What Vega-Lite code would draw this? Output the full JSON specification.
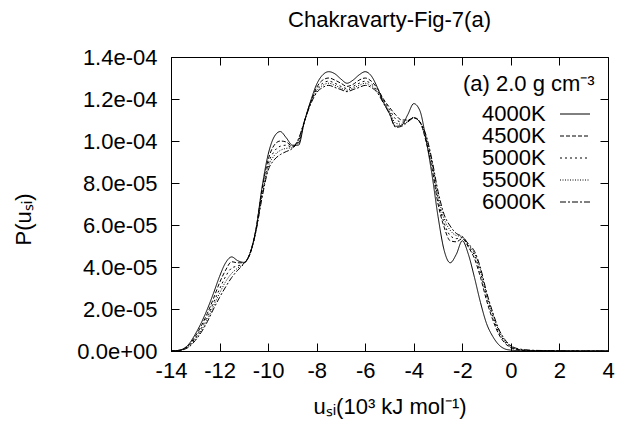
{
  "$schema": "https://vega.github.io/schema/vega-lite/v6.json",
  "width": 437,
  "height": 294,
  "autosize": {"type": "none"},
  "padding": {"left": 171, "top": 57, "right": 13, "bottom": 72},
  "background": "white",
  "title": {"text": "Chakravarty-Fig-7(a)", "fontSize": 22, "font": "Liberation Sans", "fontWeight": "normal", "color": "black", "anchor": "middle", "frame": "group", "baseline": "alphabetic", "offset": -3},
  "data": {"values": [
    {"u": -14, "4000K": 0, "4500K": 0, "5000K": 0, "5500K": 0, "6000K": 0},
    {"u": -13.75, "4000K": 0.02e-5, "4500K": 0.02e-5, "5000K": 0.015e-5, "5500K": 0.01e-5, "6000K": 0.01e-5},
    {"u": -13.5, "4000K": 0.1e-5, "4500K": 0.09e-5, "5000K": 0.08e-5, "5500K": 0.07e-5, "6000K": 0.06e-5},
    {"u": -13.25, "4000K": 0.35e-5, "4500K": 0.3e-5, "5000K": 0.27e-5, "5500K": 0.23e-5, "6000K": 0.2e-5},
    {"u": -13, "4000K": 0.8e-5, "4500K": 0.7e-5, "5000K": 0.62e-5, "5500K": 0.56e-5, "6000K": 0.5e-5},
    {"u": -12.75, "4000K": 1.35e-5, "4500K": 1.2e-5, "5000K": 1.08e-5, "5500K": 0.98e-5, "6000K": 0.9e-5},
    {"u": -12.5, "4000K": 2.0e-5, "4500K": 1.8e-5, "5000K": 1.65e-5, "5500K": 1.5e-5, "6000K": 1.4e-5},
    {"u": -12.25, "4000K": 2.75e-5, "4500K": 2.5e-5, "5000K": 2.3e-5, "5500K": 2.15e-5, "6000K": 2.0e-5},
    {"u": -12, "4000K": 3.55e-5, "4500K": 3.25e-5, "5000K": 2.95e-5, "5500K": 2.75e-5, "6000K": 2.55e-5},
    {"u": -11.75, "4000K": 4.2e-5, "4500K": 3.85e-5, "5000K": 3.55e-5, "5500K": 3.3e-5, "6000K": 3.05e-5},
    {"u": -11.5, "4000K": 4.48e-5, "4500K": 4.25e-5, "5000K": 3.95e-5, "5500K": 3.7e-5, "6000K": 3.5e-5},
    {"u": -11.25, "4000K": 4.3e-5, "4500K": 4.2e-5, "5000K": 4.05e-5, "5500K": 3.95e-5, "6000K": 3.85e-5},
    {"u": -11, "4000K": 4.22e-5, "4500K": 4.2e-5, "5000K": 4.18e-5, "5500K": 4.16e-5, "6000K": 4.15e-5},
    {"u": -10.75, "4000K": 4.65e-5, "4500K": 4.65e-5, "5000K": 4.62e-5, "5500K": 4.6e-5, "6000K": 4.6e-5},
    {"u": -10.5, "4000K": 5.8e-5, "4500K": 5.8e-5, "5000K": 5.75e-5, "5500K": 5.72e-5, "6000K": 5.7e-5},
    {"u": -10.25, "4000K": 7.8e-5, "4500K": 7.7e-5, "5000K": 7.55e-5, "5500K": 7.4e-5, "6000K": 7.3e-5},
    {"u": -10, "4000K": 9.35e-5, "4500K": 9.1e-5, "5000K": 8.9e-5, "5500K": 8.75e-5, "6000K": 8.6e-5},
    {"u": -9.75, "4000K": 10.2e-5, "4500K": 9.8e-5, "5000K": 9.5e-5, "5500K": 9.3e-5, "6000K": 9.1e-5},
    {"u": -9.5, "4000K": 10.45e-5, "4500K": 10.0e-5, "5000K": 9.75e-5, "5500K": 9.55e-5, "6000K": 9.35e-5},
    {"u": -9.25, "4000K": 10.15e-5, "4500K": 9.95e-5, "5000K": 9.8e-5, "5500K": 9.65e-5, "6000K": 9.5e-5},
    {"u": -9, "4000K": 9.8e-5, "4500K": 9.75e-5, "5000K": 9.7e-5, "5500K": 9.68e-5, "6000K": 9.65e-5},
    {"u": -8.75, "4000K": 9.8e-5, "4500K": 9.9e-5, "5000K": 10.0e-5, "5500K": 10.05e-5, "6000K": 10.1e-5},
    {"u": -8.5, "4000K": 10.95e-5, "4500K": 10.95e-5, "5000K": 10.95e-5, "5500K": 10.95e-5, "6000K": 10.95e-5},
    {"u": -8.25, "4000K": 11.9e-5, "4500K": 11.85e-5, "5000K": 11.8e-5, "5500K": 11.8e-5, "6000K": 11.75e-5},
    {"u": -8, "4000K": 12.7e-5, "4500K": 12.55e-5, "5000K": 12.45e-5, "5500K": 12.38e-5, "6000K": 12.3e-5},
    {"u": -7.75, "4000K": 13.15e-5, "4500K": 12.9e-5, "5000K": 12.75e-5, "5500K": 12.65e-5, "6000K": 12.55e-5},
    {"u": -7.5, "4000K": 13.3e-5, "4500K": 13.0e-5, "5000K": 12.85e-5, "5500K": 12.75e-5, "6000K": 12.65e-5},
    {"u": -7.25, "4000K": 13.2e-5, "4500K": 12.9e-5, "5000K": 12.75e-5, "5500K": 12.65e-5, "6000K": 12.55e-5},
    {"u": -7, "4000K": 12.95e-5, "4500K": 12.75e-5, "5000K": 12.6e-5, "5500K": 12.52e-5, "6000K": 12.45e-5},
    {"u": -6.75, "4000K": 12.75e-5, "4500K": 12.6e-5, "5000K": 12.5e-5, "5500K": 12.42e-5, "6000K": 12.35e-5},
    {"u": -6.5, "4000K": 12.9e-5, "4500K": 12.7e-5, "5000K": 12.6e-5, "5500K": 12.52e-5, "6000K": 12.45e-5},
    {"u": -6.25, "4000K": 13.15e-5, "4500K": 12.9e-5, "5000K": 12.75e-5, "5500K": 12.65e-5, "6000K": 12.55e-5},
    {"u": -6, "4000K": 13.3e-5, "4500K": 13.0e-5, "5000K": 12.85e-5, "5500K": 12.75e-5, "6000K": 12.65e-5},
    {"u": -5.75, "4000K": 13.1e-5, "4500K": 12.85e-5, "5000K": 12.72e-5, "5500K": 12.62e-5, "6000K": 12.55e-5},
    {"u": -5.5, "4000K": 12.55e-5, "4500K": 12.5e-5, "5000K": 12.4e-5, "5500K": 12.35e-5, "6000K": 12.3e-5},
    {"u": -5.25, "4000K": 11.85e-5, "4500K": 12.0e-5, "5000K": 11.95e-5, "5500K": 11.88e-5, "6000K": 11.8e-5},
    {"u": -5, "4000K": 11.3e-5, "4500K": 11.6e-5, "5000K": 11.5e-5, "5500K": 11.4e-5, "6000K": 11.3e-5},
    {"u": -4.75, "4000K": 10.7e-5, "4500K": 11.25e-5, "5000K": 11.05e-5, "5500K": 10.85e-5, "6000K": 10.65e-5},
    {"u": -4.5, "4000K": 10.75e-5, "4500K": 11.0e-5, "5000K": 10.9e-5, "5500K": 10.8e-5, "6000K": 10.7e-5},
    {"u": -4.25, "4000K": 11.25e-5, "4500K": 11.0e-5, "5000K": 10.95e-5, "5500K": 10.92e-5, "6000K": 10.9e-5},
    {"u": -4, "4000K": 11.78e-5, "4500K": 11.1e-5, "5000K": 11.12e-5, "5500K": 11.12e-5, "6000K": 11.1e-5},
    {"u": -3.75, "4000K": 11.45e-5, "4500K": 10.9e-5, "5000K": 10.92e-5, "5500K": 10.92e-5, "6000K": 10.9e-5},
    {"u": -3.5, "4000K": 10.1e-5, "4500K": 10.0e-5, "5000K": 10.1e-5, "5500K": 10.2e-5, "6000K": 10.3e-5},
    {"u": -3.25, "4000K": 8.4e-5, "4500K": 8.7e-5, "5000K": 8.9e-5, "5500K": 9.0e-5, "6000K": 9.1e-5},
    {"u": -3, "4000K": 6.4e-5, "4500K": 7.0e-5, "5000K": 7.2e-5, "5500K": 7.4e-5, "6000K": 7.6e-5},
    {"u": -2.75, "4000K": 4.8e-5, "4500K": 5.9e-5, "5000K": 6.1e-5, "5500K": 6.3e-5, "6000K": 6.5e-5},
    {"u": -2.5, "4000K": 4.2e-5, "4500K": 5.25e-5, "5000K": 5.5e-5, "5500K": 5.75e-5, "6000K": 5.95e-5},
    {"u": -2.25, "4000K": 4.6e-5, "4500K": 5.2e-5, "5000K": 5.35e-5, "5500K": 5.5e-5, "6000K": 5.6e-5},
    {"u": -2, "4000K": 5.25e-5, "4500K": 5.35e-5, "5000K": 5.4e-5, "5500K": 5.45e-5, "6000K": 5.45e-5},
    {"u": -1.75, "4000K": 4.6e-5, "4500K": 4.95e-5, "5000K": 5.0e-5, "5500K": 5.05e-5, "6000K": 5.1e-5},
    {"u": -1.5, "4000K": 3.5e-5, "4500K": 4.4e-5, "5000K": 4.55e-5, "5500K": 4.65e-5, "6000K": 4.75e-5},
    {"u": -1.25, "4000K": 2.3e-5, "4500K": 3.5e-5, "5000K": 3.7e-5, "5500K": 3.85e-5, "6000K": 3.95e-5},
    {"u": -1, "4000K": 1.3e-5, "4500K": 2.4e-5, "5000K": 2.6e-5, "5500K": 2.7e-5, "6000K": 2.8e-5},
    {"u": -0.75, "4000K": 0.7e-5, "4500K": 1.5e-5, "5000K": 1.65e-5, "5500K": 1.75e-5, "6000K": 1.85e-5},
    {"u": -0.5, "4000K": 0.3e-5, "4500K": 0.8e-5, "5000K": 0.9e-5, "5500K": 0.98e-5, "6000K": 1.05e-5},
    {"u": -0.25, "4000K": 0.1e-5, "4500K": 0.38e-5, "5000K": 0.45e-5, "5500K": 0.5e-5, "6000K": 0.55e-5},
    {"u": 0, "4000K": 0.04e-5, "4500K": 0.15e-5, "5000K": 0.19e-5, "5500K": 0.22e-5, "6000K": 0.25e-5},
    {"u": 0.25, "4000K": 0.02e-5, "4500K": 0.06e-5, "5000K": 0.08e-5, "5500K": 0.1e-5, "6000K": 0.12e-5},
    {"u": 0.5, "4000K": 0.01e-5, "4500K": 0.03e-5, "5000K": 0.04e-5, "5500K": 0.05e-5, "6000K": 0.07e-5},
    {"u": 1, "4000K": 0, "4500K": 0.01e-5, "5000K": 0.015e-5, "5500K": 0.02e-5, "6000K": 0.03e-5},
    {"u": 1.5, "4000K": 0, "4500K": 0.005e-5, "5000K": 0.01e-5, "5500K": 0.01e-5, "6000K": 0.02e-5},
    {"u": 2, "4000K": 0, "4500K": 0, "5000K": 0.005e-5, "5500K": 0.005e-5, "6000K": 0.01e-5},
    {"u": 3, "4000K": 0, "4500K": 0, "5000K": 0, "5500K": 0, "6000K": 0},
    {"u": 4, "4000K": 0, "4500K": 0, "5000K": 0, "5500K": 0, "6000K": 0}
  ]},
  "layer": [
    {
      "transform": [{"fold": ["4000K", "4500K", "5000K", "5500K", "6000K"], "as": ["T", "p"]}],
      "mark": {"type": "line", "color": "black", "strokeWidth": 1, "interpolate": "monotone"},
      "encoding": {
        "x": {"field": "u", "type": "quantitative",
          "scale": {"domain": [-14, 4], "nice": false, "zero": false},
          "axis": {"orient": "bottom", "values": [-14, -12, -10, -8, -6, -4, -2, 0, 2, 4], "labelExpr": "'' + datum.value",
            "title": "uₛᵢ(10³ kJ mol⁻¹)", "titleY": 62, "titleBaseline": "alphabetic",
            "tickSize": -8, "labelPadding": 17, "labelFlush": false, "labelOverlap": false, "labelBound": false}},
        "y": {"field": "p", "type": "quantitative",
          "scale": {"domain": [0, 0.00014], "nice": false, "zero": true},
          "axis": {"orient": "left", "values": [0, 2e-5, 4e-5, 6e-5, 8e-5, 10e-5, 12e-5, 14e-5],
            "labelExpr": "replace(replace(format(datum.value, '.1e'), 'e-', 'e-0'), 'e+', 'e+0')",
            "title": "P(uₛᵢ)", "titleX": -136, "titleY": 162, "titleAlign": "center", "titleBaseline": "bottom", "titleAngle": -90,
            "tickSize": -8, "labelPadding": 22, "labelFlush": false, "labelOverlap": false, "labelBound": false}},
        "strokeDash": {"field": "T", "type": "nominal",
          "scale": {"domain": ["4000K", "4500K", "5000K", "5500K", "6000K"], "range": [[1, 0], [4, 2], [2, 3], [1, 1.5], [6, 2, 2, 2]]},
          "legend": {"orient": "none", "legendX": 393, "legendY": 46, "title": null, "labelExpr": "' '",
            "symbolType": "M-3,0H3", "symbolSize": 100, "symbolStrokeWidth": 1, "symbolStrokeColor": "black",
            "labelFontSize": 22, "rowPadding": 0}}
      }
    },
    {
      "transform": [{"fold": ["4000K", "4500K", "5000K", "5500K", "6000K"], "as": ["Temp", "prob"]}],
      "mark": {"type": "line", "strokeOpacity": 0},
      "encoding": {
        "x": {"field": "u", "type": "quantitative",
          "scale": {"domain": [-14, 4], "nice": false, "zero": false},
          "axis": {"orient": "top", "values": [-14, -12, -10, -8, -6, -4, -2, 0, 2, 4], "labels": false, "title": null, "domain": false, "tickSize": -8}},
        "y": {"field": "prob", "type": "quantitative",
          "scale": {"domain": [0, 0.00014], "nice": false, "zero": true},
          "axis": {"orient": "right", "values": [0, 2e-5, 4e-5, 6e-5, 8e-5, 10e-5, 12e-5, 14e-5], "labels": false, "title": null, "domain": false, "tickSize": -8}},
        "color": {"field": "Temp", "type": "nominal",
          "scale": {"range": ["black", "black", "black", "black", "black"]},
          "legend": {"orient": "none", "legendX": 292, "legendY": 17, "title": "(a) 2.0 g cm⁻³", "titlePadding": 7,
            "symbolOpacity": 0, "symbolSize": 1, "labelOffset": -3, "labelFontSize": 22, "rowPadding": 0}}
      }
    }
  ],
  "resolve": {"axis": {"x": "independent", "y": "independent"}},
  "config": {
    "view": {"stroke": "black", "strokeWidth": 1},
    "axis": {"labelFont": "Liberation Sans", "titleFont": "Liberation Sans", "labelFontSize": 22, "titleFontSize": 22,
      "labelColor": "black", "titleColor": "black", "titleFontWeight": "normal", "domainColor": "black", "tickColor": "black", "grid": false, "domainWidth": 1, "tickWidth": 1},
    "legend": {"orient": "none", "padding": 0, "titleFont": "Liberation Sans", "titleFontSize": 22, "titleFontWeight": "normal", "titleColor": "black",
      "labelFont": "Liberation Sans", "labelColor": "black"}
  }
}
